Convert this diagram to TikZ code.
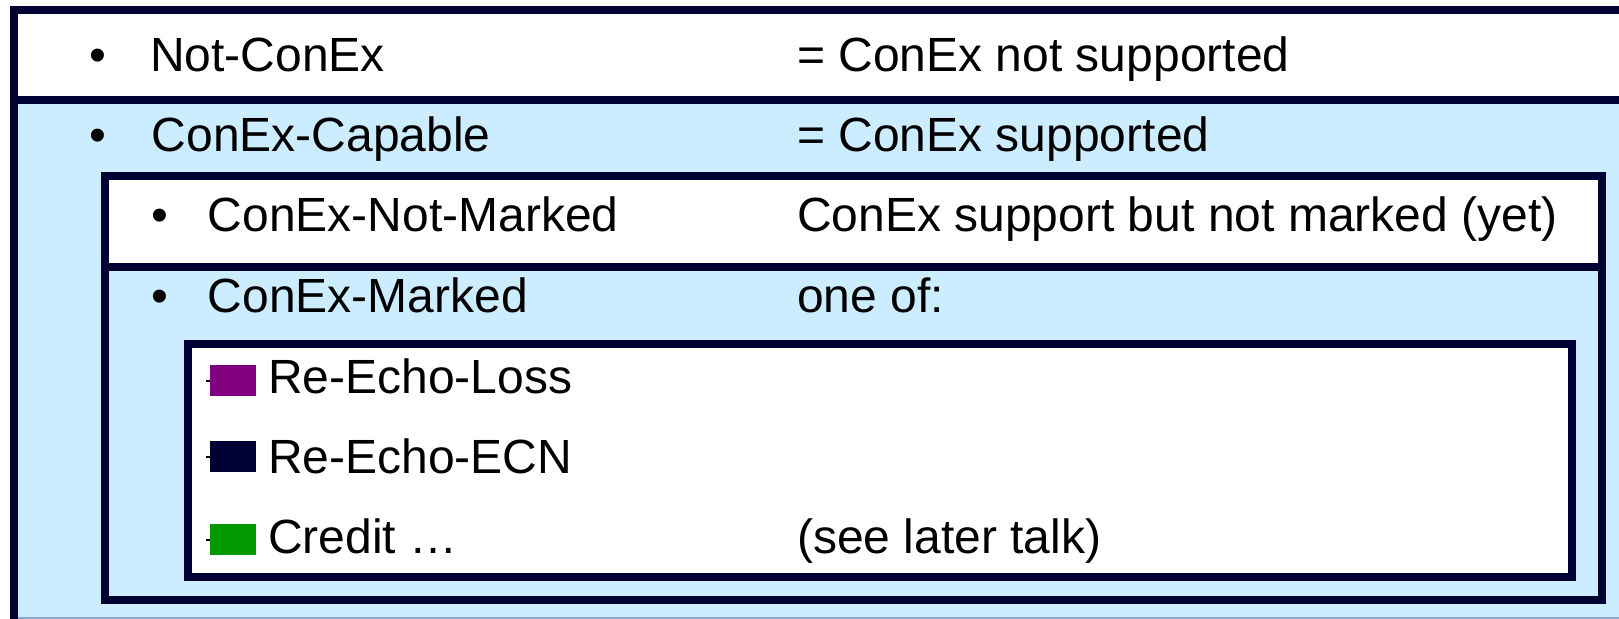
\documentclass[tikz,border=0pt]{standalone}
\usepackage{fontspec}
\setmainfont{Liberation Sans}
\definecolor{navy}{HTML}{000033}
\definecolor{lblue}{HTML}{CCECFF}
\definecolor{mpurple}{HTML}{800080}
\definecolor{mgreen}{HTML}{009900}
\definecolor{edgeline}{HTML}{8CA8D0}
\begin{document}
\begin{tikzpicture}[x=1bp,y=-1bp,
  txt/.style={anchor=base west,inner sep=0pt,font=\fontsize{48bp}{57bp}\selectfont},
  bul/.style={anchor=base,inner sep=0pt,font=\fontsize{48bp}{57bp}\selectfont},
  frame/.style={draw=navy,line width=8bp},
  dashmark/.style={draw=black,line width=2bp}]
\useasboundingbox (0,0) rectangle (1619,619);
% outer table
\fill[lblue] (14,100) rectangle (1640,617);
\fill[white] (14,10) rectangle (1640,100);
\draw[edgeline,line width=1.5bp] (18,618) -- (1640,618);
\draw[frame] (1640,10) -- (14,10) -- (14,619);
\draw[frame] (14,100.5) -- (1640,100.5);
% box 2
\fill[white] (105,176.5) rectangle (1602,267);
\draw[frame] (105,176.5) rectangle (1602,600);
\draw[frame] (105,267) -- (1602,267);
% box 3
\filldraw[frame,fill=white] (188,343.5) rectangle (1571.5,577);
% rows
\node[bul] (b1) at (98,72) {•};
\node[txt] (t1) at (150,72) {Not-ConEx};
\node[txt] (d1) at (797,72) {= ConEx not supported};
\node[bul] (b2) at (98,152) {•};
\node[txt] (t2) at (151.5,152) {ConEx-Capable};
\node[txt] (d2) at (797,152) {= ConEx supported};
\node[bul] (b3) at (160,232) {•};
\node[txt] (t3) at (207.5,232) {ConEx-Not-Marked};
\node[txt] (d3) at (797,232) {ConEx support but not marked (yet)};
\node[bul] (b4) at (160,312) {•};
\node[txt] (t4) at (207.5,312) {ConEx-Marked};
\node[txt] (d4) at (797,312) {one of:};
% sub items
\draw[dashmark] (206,380.5) -- (214,380.5);
\fill[mpurple] (210,365) rectangle (256,396);
\node[txt] (t5) at (268,393) {Re-Echo-Loss};
\draw[dashmark] (206,456.5) -- (214,456.5);
\fill[navy] (210,441) rectangle (256,472);
\node[txt] (t6) at (268,473) {Re-Echo-ECN};
\draw[dashmark] (206,539.5) -- (214,539.5);
\fill[mgreen] (210,524) rectangle (256,555);
\node[txt] (t7) at (268,553) {Credit …};
\node[txt] (d7) at (797,553) {(see later talk)};
\end{tikzpicture}
\end{document}
